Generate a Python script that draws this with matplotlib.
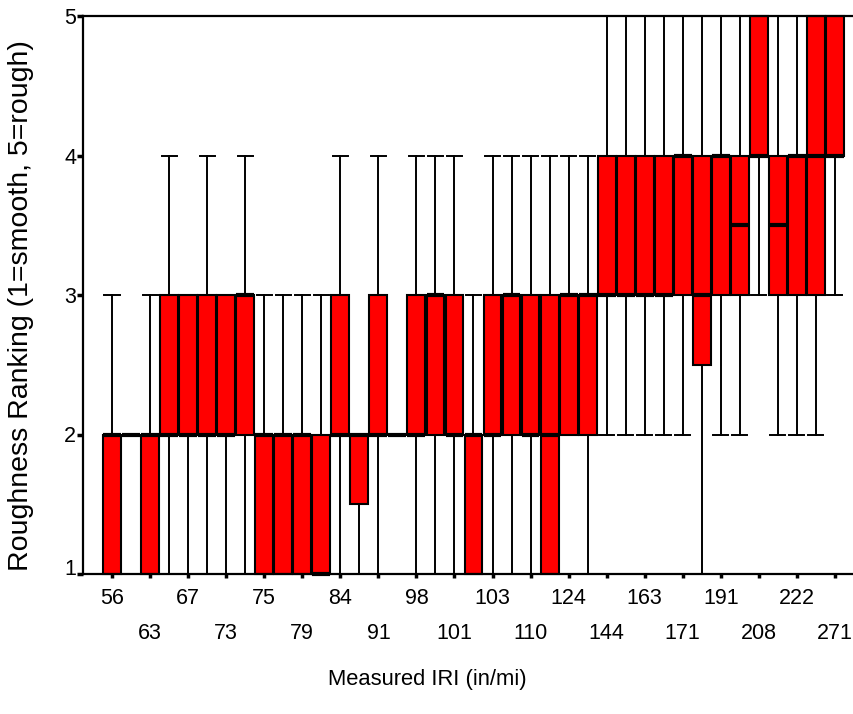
import matplotlib
matplotlib.use("Agg")
import matplotlib.pyplot as plt
import matplotlib.transforms as mtransforms
import numpy as np

# Tick labels (IRI, in/mi) shown on two staggered rows
iri_labels_row1 = ["56", "67", "75", "84", "98", "103", "124", "163", "191", "222"]
iri_labels_row2 = ["63", "73", "79", "91", "101", "110", "144", "171", "208", "271"]

# Box statistics for each of the 39 sections (ranking 1..5)
whisker_low = [1, 2, 1, 1, 1, 1, 1, 1, 1, 1, 1, 1, 1, 1, 1, 2, 1, 1, 1, 1,
               1, 1, 1, 1, 2, 1, 2, 2, 2, 2, 2, 1, 2, 2, 3, 2, 2, 2, 3]
quartile_1 = [1, 2, 1, 2, 2, 2, 2, 2, 1, 1, 1, 1, 2, 1.5, 2, 2, 2, 2, 2, 1,
              2, 2, 2, 1, 2, 2, 3, 3, 3, 3, 3, 2.5, 3, 3, 4, 3, 3, 3, 4]
median = [2, 2, 2, 2, 2, 2, 2, 3, 2, 2, 2, 1, 2, 2, 2, 2, 2, 3, 2, 2,
          2, 3, 2, 2, 3, 3, 3, 3, 3, 3, 4, 3, 4, 3.5, 4, 3.5, 4, 4, 4]
quartile_3 = [2, 2, 2, 3, 3, 3, 3, 3, 2, 2, 2, 2, 3, 2, 3, 2, 3, 3, 3, 2,
              3, 3, 3, 3, 3, 3, 4, 4, 4, 4, 4, 4, 4, 4, 5, 4, 4, 5, 5]
whisker_high = [3, 2, 3, 4, 3, 4, 3, 4, 3, 3, 3, 3, 4, 2, 4, 2, 4, 4, 4, 3,
                4, 4, 4, 4, 4, 4, 5, 5, 5, 5, 5, 5, 5, 5, 5, 5, 5, 5, 5]

plt.rcParams['font.family'] = ['Liberation Sans', 'DejaVu Sans']

W, H = 854, 714
fig = plt.figure(figsize=(W / 100, H / 100), dpi=100)
ax = fig.add_axes([83 / W, 1 - 574 / H, (852 - 83) / W, (574 - 16) / H])

stats = []
for lo, a, m, b, hi in zip(whisker_low, quartile_1, median, quartile_3, whisker_high):
    stats.append(dict(whislo=lo, q1=a, med=m, q3=b, whishi=hi, fliers=[]))

pos = np.arange(len(stats))
bp = ax.bxp(stats, positions=pos, widths=0.94, patch_artist=True, showfliers=False,
            boxprops=dict(facecolor='#ff0000', edgecolor='black', linewidth=1.5),
            medianprops=dict(color='black', linewidth=3.0, solid_capstyle='butt', zorder=5),
            whiskerprops=dict(color='black', linewidth=1.4),
            capprops=dict(color='black', linewidth=1.4),
            capwidths=0.8)

for i, s in enumerate(stats):
    if s['whislo'] == s['q1']:
        bp['caps'][2 * i].set_visible(False)
        bp['whiskers'][2 * i].set_visible(False)
    if s['whishi'] == s['q3']:
        bp['caps'][2 * i + 1].set_visible(False)
        bp['whiskers'][2 * i + 1].set_visible(False)

for key in ('boxes', 'medians', 'whiskers', 'caps'):
    for art in bp[key]:
        art.set_clip_on(False)

ax.set_xlim(-1.53, 38.9)
ax.set_ylim(1, 5)

ax.set_xticks(pos[0::4], labels=iri_labels_row1)
ax.set_xticks(pos[2::4], labels=iri_labels_row2, minor=True)
ax.tick_params(axis='x', which='both', length=3, width=2.5, direction='out', labelsize=15.5)
ax.tick_params(axis='x', which='major', pad=7)
ax.tick_params(axis='x', which='minor', pad=32)

ax.set_yticks([1, 2, 3, 4, 5])
ax.tick_params(axis='y', length=4, width=2.5, direction='out', labelsize=15.5, pad=1)

# the "1" label sits a little above its tick in the reference
lab1 = ax.get_yticklabels()[0]
lab1.set_transform(lab1.get_transform() + mtransforms.ScaledTranslation(0, 7 / 100, fig.dpi_scale_trans))

for side in ('left', 'bottom', 'top'):
    ax.spines[side].set_linewidth(1.6)
ax.spines['right'].set_visible(False)

fig.text(21 / W, 1 - 306 / H, "Roughness Ranking (1=smooth, 5=rough)", rotation=90,
         ha='center', va='center', fontsize=20.5)
fig.text(0.5, 1 - 679 / H, "Measured IRI (in/mi)", ha='center', va='center', fontsize=15.8)

fig.savefig("out.png", dpi=100)
